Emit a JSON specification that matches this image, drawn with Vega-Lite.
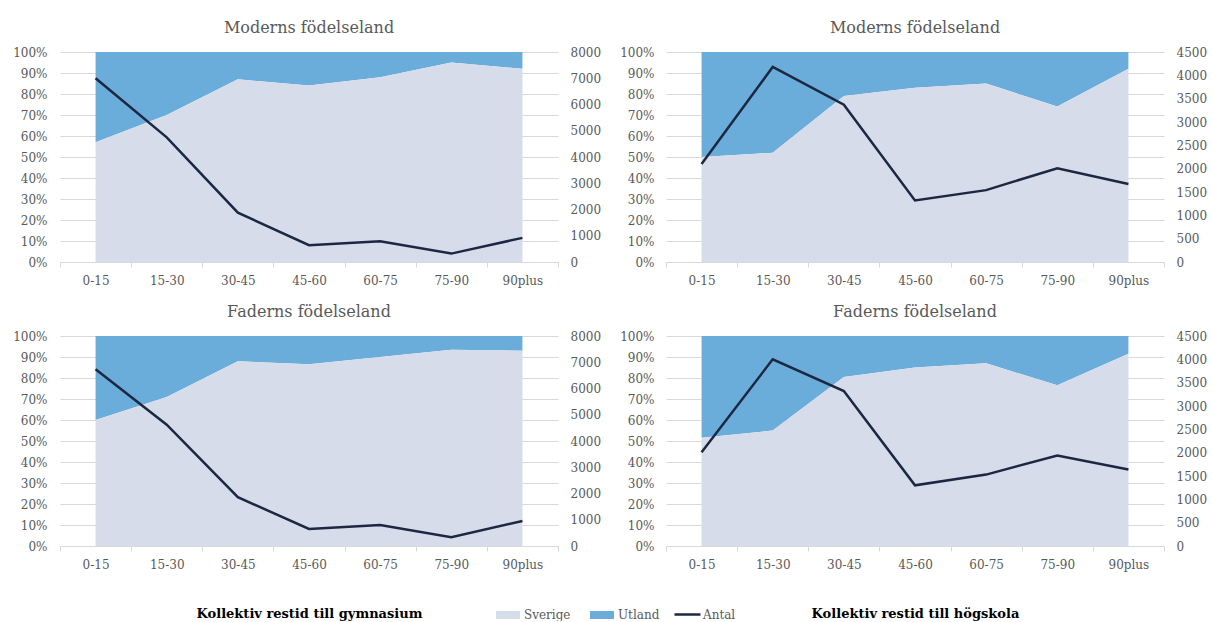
{
  "$schema": "https://vega.github.io/schema/vega-lite/v6.json",
  "background": "white",
  "padding": {"left": 12, "top": 20, "right": 5, "bottom": 0},
  "config": {
    "font": "DejaVu Serif",
    "view": {"stroke": null},
    "title": {"fontSize": 16, "fontWeight": "normal", "color": "#595959", "offset": 10, "frame": "group"},
    "axis": {"labelFont": "DejaVu Serif", "labelFontSize": 12, "labelColor": "#595959", "titleFont": "DejaVu Serif", "labelOverlap": false},
    "axisX": {"domainColor": "#d9d9d9", "tickColor": "#d9d9d9", "tickBand": "extent", "tickSize": 5, "labelAngle": 0, "grid": false, "labelPadding": 8, "titleFontWeight": "bold", "titleFontSize": 13, "titleColor": "#000000", "titlePadding": 37},
    "legend": {"labelFont": "DejaVu Serif", "labelFontSize": 12, "labelColor": "#595959"}
  },
  "data": {"values": [
    {"panel": "p1", "restid": "0-15", "sverige": 0.57, "antal": 7000},
    {"panel": "p1", "restid": "15-30", "sverige": 0.70, "antal": 4750},
    {"panel": "p1", "restid": "30-45", "sverige": 0.87, "antal": 1880},
    {"panel": "p1", "restid": "45-60", "sverige": 0.84, "antal": 640},
    {"panel": "p1", "restid": "60-75", "sverige": 0.88, "antal": 790},
    {"panel": "p1", "restid": "75-90", "sverige": 0.95, "antal": 320},
    {"panel": "p1", "restid": "90plus", "sverige": 0.92, "antal": 920},
    {"panel": "p2", "restid": "0-15", "sverige": 0.50, "antal": 2100},
    {"panel": "p2", "restid": "15-30", "sverige": 0.52, "antal": 4180},
    {"panel": "p2", "restid": "30-45", "sverige": 0.79, "antal": 3370},
    {"panel": "p2", "restid": "45-60", "sverige": 0.83, "antal": 1320},
    {"panel": "p2", "restid": "60-75", "sverige": 0.85, "antal": 1540},
    {"panel": "p2", "restid": "75-90", "sverige": 0.74, "antal": 2010},
    {"panel": "p2", "restid": "90plus", "sverige": 0.92, "antal": 1670},
    {"panel": "p3", "restid": "0-15", "sverige": 0.60, "antal": 6730},
    {"panel": "p3", "restid": "15-30", "sverige": 0.71, "antal": 4620},
    {"panel": "p3", "restid": "30-45", "sverige": 0.88, "antal": 1860},
    {"panel": "p3", "restid": "45-60", "sverige": 0.865, "antal": 650},
    {"panel": "p3", "restid": "60-75", "sverige": 0.90, "antal": 800},
    {"panel": "p3", "restid": "75-90", "sverige": 0.935, "antal": 330},
    {"panel": "p3", "restid": "90plus", "sverige": 0.93, "antal": 955},
    {"panel": "p4", "restid": "0-15", "sverige": 0.515, "antal": 2010},
    {"panel": "p4", "restid": "15-30", "sverige": 0.55, "antal": 4000},
    {"panel": "p4", "restid": "30-45", "sverige": 0.805, "antal": 3320},
    {"panel": "p4", "restid": "45-60", "sverige": 0.85, "antal": 1300},
    {"panel": "p4", "restid": "60-75", "sverige": 0.87, "antal": 1530},
    {"panel": "p4", "restid": "75-90", "sverige": 0.765, "antal": 1940},
    {"panel": "p4", "restid": "90plus", "sverige": 0.915, "antal": 1640}
  ]},
  "columns": 2,
  "spacing": {"row": 18, "column": 18},
  "concat": [
    {
      "width": 498, "height": 210,
      "title": "Moderns födelseland",
      "transform": [{"filter": "datum.panel == 'p1'"}],
      "layer": [
        {
          "layer": [
            {"mark": {"type": "area", "opacity": 1},
             "encoding": {
               "x": {"field": "restid", "type": "ordinal", "sort": ["0-15","15-30","30-45","45-60","60-75","75-90","90plus"], "scale": {"type": "band", "paddingInner": 0, "paddingOuter": 0}, "bandPosition": 0.5, "axis": {"title": null}},
               "y": {"field": "sverige", "type": "quantitative", "scale": {"domain": [0, 1], "nice": false}, "axis": {"format": ".0%", "values": [0,0.1,0.2,0.3,0.4,0.5,0.6,0.7,0.8,0.9,1], "labelOverlap": false, "domain": false, "ticks": false, "grid": true, "gridColor": "#d9d9d9", "labelPadding": 13, "title": null}},
               "y2": {"datum": 1},
               "color": {"datum": "Utland", "type": "nominal", "scale": {"domain": ["Sverige", "Utland"], "range": ["#d6dcea", "#6aaddb"]}, "legend": {"title": null, "orient": "none", "legendX": 440, "legendY": 555, "direction": "horizontal", "symbolType": "M-1.5,-0.5H1.5V0.5H-1.5Z", "symbolSize": 256, "symbolStrokeWidth": 0, "symbolOpacity": 1, "labelOffset": 8, "columnPadding": 19}}
             }},
            {"mark": {"type": "area", "opacity": 1},
             "encoding": {
               "x": {"field": "restid", "type": "ordinal", "sort": ["0-15","15-30","30-45","45-60","60-75","75-90","90plus"], "scale": {"type": "band", "paddingInner": 0, "paddingOuter": 0}, "bandPosition": 0.5, "axis": {"title": null}},
               "y": {"field": "sverige", "type": "quantitative", "scale": {"domain": [0, 1], "nice": false}, "axis": {"format": ".0%", "values": [0,0.1,0.2,0.3,0.4,0.5,0.6,0.7,0.8,0.9,1], "labelOverlap": false, "domain": false, "ticks": false, "grid": true, "gridColor": "#d9d9d9", "labelPadding": 13, "title": null}},
               "y2": {"datum": 0},
               "color": {"datum": "Sverige", "type": "nominal"}
             }}
          ]
        },
        {"mark": {"type": "line", "strokeWidth": 2.5},
         "encoding": {
           "x": {"field": "restid", "type": "ordinal", "sort": ["0-15","15-30","30-45","45-60","60-75","75-90","90plus"], "scale": {"type": "band", "paddingInner": 0, "paddingOuter": 0}, "bandPosition": 0.5, "axis": {"title": null}},
           "y": {"field": "antal", "type": "quantitative", "scale": {"domain": [0, 8000], "nice": false}, "axis": {"orient": "right", "values": [0,1000,2000,3000,4000,5000,6000,7000,8000], "labelOverlap": false, "format": "d", "domain": false, "ticks": false, "grid": false, "labelPadding": 12, "title": null}},
           "stroke": {"datum": "Antal", "type": "nominal", "scale": {"domain": ["Antal"], "range": ["#1c2841"]}, "legend": {"title": null, "orient": "none", "legendX": 613, "legendY": 548, "symbolType": "stroke", "symbolSize": 676, "symbolStrokeWidth": 2.5, "labelOffset": 1}}
         }}
      ],
      "resolve": {"scale": {"y": "independent"}}
    },
    {
      "width": 498, "height": 210,
      "title": "Moderns födelseland",
      "transform": [{"filter": "datum.panel == 'p2'"}],
      "layer": [
        {
          "layer": [
            {"mark": {"type": "area", "opacity": 1},
             "encoding": {
               "x": {"field": "restid", "type": "ordinal", "sort": ["0-15","15-30","30-45","45-60","60-75","75-90","90plus"], "scale": {"type": "band", "paddingInner": 0, "paddingOuter": 0}, "bandPosition": 0.5, "axis": {"title": null}},
               "y": {"field": "sverige", "type": "quantitative", "scale": {"domain": [0, 1], "nice": false}, "axis": {"format": ".0%", "values": [0,0.1,0.2,0.3,0.4,0.5,0.6,0.7,0.8,0.9,1], "labelOverlap": false, "domain": false, "ticks": false, "grid": true, "gridColor": "#d9d9d9", "labelPadding": 12, "title": null}},
               "y2": {"datum": 1},
               "color": {"datum": "Utland", "type": "nominal"}
             }},
            {"mark": {"type": "area", "opacity": 1},
             "encoding": {
               "x": {"field": "restid", "type": "ordinal", "sort": ["0-15","15-30","30-45","45-60","60-75","75-90","90plus"], "scale": {"type": "band", "paddingInner": 0, "paddingOuter": 0}, "bandPosition": 0.5, "axis": {"title": null}},
               "y": {"field": "sverige", "type": "quantitative", "scale": {"domain": [0, 1], "nice": false}, "axis": {"format": ".0%", "values": [0,0.1,0.2,0.3,0.4,0.5,0.6,0.7,0.8,0.9,1], "labelOverlap": false, "domain": false, "ticks": false, "grid": true, "gridColor": "#d9d9d9", "labelPadding": 12, "title": null}},
               "y2": {"datum": 0},
               "color": {"datum": "Sverige", "type": "nominal"}
             }}
          ]
        },
        {"mark": {"type": "line", "strokeWidth": 2.5},
         "encoding": {
           "x": {"field": "restid", "type": "ordinal", "sort": ["0-15","15-30","30-45","45-60","60-75","75-90","90plus"], "scale": {"type": "band", "paddingInner": 0, "paddingOuter": 0}, "bandPosition": 0.5, "axis": {"title": null}},
           "y": {"field": "antal", "type": "quantitative", "scale": {"domain": [0, 4500], "nice": false}, "axis": {"orient": "right", "values": [0,500,1000,1500,2000,2500,3000,3500,4000,4500], "labelOverlap": false, "format": "d", "domain": false, "ticks": false, "grid": false, "labelPadding": 12, "title": null}},
           "stroke": {"datum": "Antal", "type": "nominal"}
         }}
      ],
      "resolve": {"scale": {"y": "independent"}}
    },
    {
      "width": 498, "height": 210,
      "title": "Faderns födelseland",
      "transform": [{"filter": "datum.panel == 'p3'"}],
      "layer": [
        {
          "layer": [
            {"mark": {"type": "area", "opacity": 1},
             "encoding": {
               "x": {"field": "restid", "type": "ordinal", "sort": ["0-15","15-30","30-45","45-60","60-75","75-90","90plus"], "scale": {"type": "band", "paddingInner": 0, "paddingOuter": 0}, "bandPosition": 0.5, "axis": {"title": "Kollektiv restid till gymnasium"}},
               "y": {"field": "sverige", "type": "quantitative", "scale": {"domain": [0, 1], "nice": false}, "axis": {"format": ".0%", "values": [0,0.1,0.2,0.3,0.4,0.5,0.6,0.7,0.8,0.9,1], "labelOverlap": false, "domain": false, "ticks": false, "grid": true, "gridColor": "#d9d9d9", "labelPadding": 13, "title": null}},
               "y2": {"datum": 1},
               "color": {"datum": "Utland", "type": "nominal"}
             }},
            {"mark": {"type": "area", "opacity": 1},
             "encoding": {
               "x": {"field": "restid", "type": "ordinal", "sort": ["0-15","15-30","30-45","45-60","60-75","75-90","90plus"], "scale": {"type": "band", "paddingInner": 0, "paddingOuter": 0}, "bandPosition": 0.5, "axis": {"title": "Kollektiv restid till gymnasium"}},
               "y": {"field": "sverige", "type": "quantitative", "scale": {"domain": [0, 1], "nice": false}, "axis": {"format": ".0%", "values": [0,0.1,0.2,0.3,0.4,0.5,0.6,0.7,0.8,0.9,1], "labelOverlap": false, "domain": false, "ticks": false, "grid": true, "gridColor": "#d9d9d9", "labelPadding": 13, "title": null}},
               "y2": {"datum": 0},
               "color": {"datum": "Sverige", "type": "nominal"}
             }}
          ]
        },
        {"mark": {"type": "line", "strokeWidth": 2.5},
         "encoding": {
           "x": {"field": "restid", "type": "ordinal", "sort": ["0-15","15-30","30-45","45-60","60-75","75-90","90plus"], "scale": {"type": "band", "paddingInner": 0, "paddingOuter": 0}, "bandPosition": 0.5, "axis": {"title": "Kollektiv restid till gymnasium"}},
           "y": {"field": "antal", "type": "quantitative", "scale": {"domain": [0, 8000], "nice": false}, "axis": {"orient": "right", "values": [0,1000,2000,3000,4000,5000,6000,7000,8000], "labelOverlap": false, "format": "d", "domain": false, "ticks": false, "grid": false, "labelPadding": 12, "title": null}},
           "stroke": {"datum": "Antal", "type": "nominal"}
         }}
      ],
      "resolve": {"scale": {"y": "independent"}}
    },
    {
      "width": 498, "height": 210,
      "title": "Faderns födelseland",
      "transform": [{"filter": "datum.panel == 'p4'"}],
      "layer": [
        {
          "layer": [
            {"mark": {"type": "area", "opacity": 1},
             "encoding": {
               "x": {"field": "restid", "type": "ordinal", "sort": ["0-15","15-30","30-45","45-60","60-75","75-90","90plus"], "scale": {"type": "band", "paddingInner": 0, "paddingOuter": 0}, "bandPosition": 0.5, "axis": {"title": "Kollektiv restid till högskola"}},
               "y": {"field": "sverige", "type": "quantitative", "scale": {"domain": [0, 1], "nice": false}, "axis": {"format": ".0%", "values": [0,0.1,0.2,0.3,0.4,0.5,0.6,0.7,0.8,0.9,1], "labelOverlap": false, "domain": false, "ticks": false, "grid": true, "gridColor": "#d9d9d9", "labelPadding": 12, "title": null}},
               "y2": {"datum": 1},
               "color": {"datum": "Utland", "type": "nominal"}
             }},
            {"mark": {"type": "area", "opacity": 1},
             "encoding": {
               "x": {"field": "restid", "type": "ordinal", "sort": ["0-15","15-30","30-45","45-60","60-75","75-90","90plus"], "scale": {"type": "band", "paddingInner": 0, "paddingOuter": 0}, "bandPosition": 0.5, "axis": {"title": "Kollektiv restid till högskola"}},
               "y": {"field": "sverige", "type": "quantitative", "scale": {"domain": [0, 1], "nice": false}, "axis": {"format": ".0%", "values": [0,0.1,0.2,0.3,0.4,0.5,0.6,0.7,0.8,0.9,1], "labelOverlap": false, "domain": false, "ticks": false, "grid": true, "gridColor": "#d9d9d9", "labelPadding": 12, "title": null}},
               "y2": {"datum": 0},
               "color": {"datum": "Sverige", "type": "nominal"}
             }}
          ]
        },
        {"mark": {"type": "line", "strokeWidth": 2.5},
         "encoding": {
           "x": {"field": "restid", "type": "ordinal", "sort": ["0-15","15-30","30-45","45-60","60-75","75-90","90plus"], "scale": {"type": "band", "paddingInner": 0, "paddingOuter": 0}, "bandPosition": 0.5, "axis": {"title": "Kollektiv restid till högskola"}},
           "y": {"field": "antal", "type": "quantitative", "scale": {"domain": [0, 4500], "nice": false}, "axis": {"orient": "right", "values": [0,500,1000,1500,2000,2500,3000,3500,4000,4500], "labelOverlap": false, "format": "d", "domain": false, "ticks": false, "grid": false, "labelPadding": 12, "title": null}},
           "stroke": {"datum": "Antal", "type": "nominal"}
         }}
      ],
      "resolve": {"scale": {"y": "independent"}}
    }
  ]
}
